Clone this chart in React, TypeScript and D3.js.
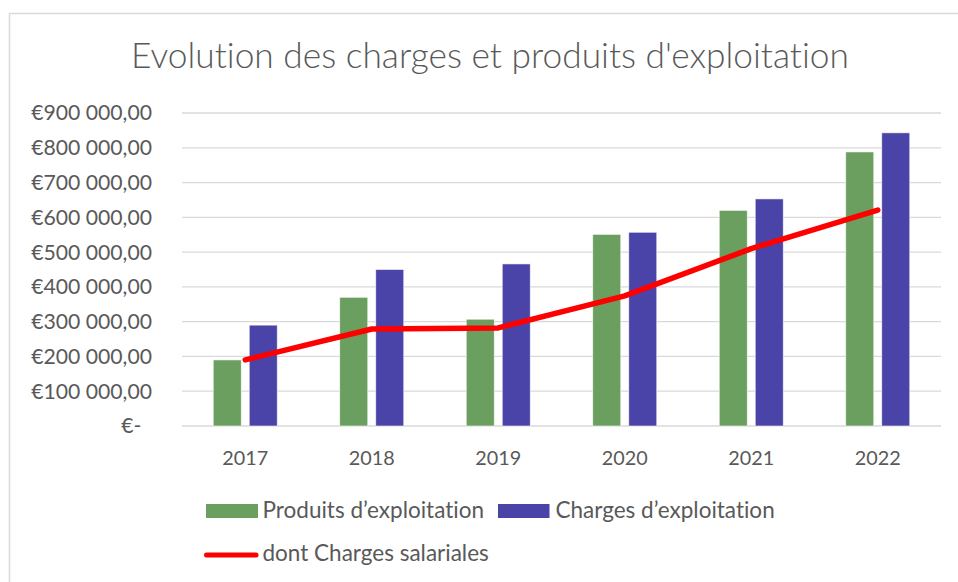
import React from "react";
import * as d3 from "d3";

const categories = ["2017", "2018", "2019", "2020", "2021", "2022"];
const produits = [190000, 370000, 307000, 551000, 620000, 788000];
const charges = [290000, 450000, 466000, 557000, 653000, 843000];
const salariales = [190000, 279000, 282000, 374000, 510000, 621000];
const yTicks = [0, 100000, 200000, 300000, 400000, 500000, 600000, 700000, 800000, 900000];
const seriesNames = ["Produits d\u2019exploitation", "Charges d\u2019exploitation", "dont Charges salariales"];
const title = "Evolution des charges et produits d'exploitation";

const W = 958;
const H = 582;
const FONT = "Lato, 'Open Sans', sans-serif";
const GREEN = "#6A9F5F";
const BLUE = "#4B44A8";
const RED = "#FF0000";
const TEXT = "#595959";
const GRID = "#D9D9D9";

const locale = d3.formatLocale({ decimal: ",", thousands: "\u00a0", grouping: [3], currency: ["\u20ac", ""] });
const fmt = locale.format("$,.2f");
const fmtTick = (v: number) => (v === 0 ? "\u20ac-" : fmt(v).replace(/\u00a0/g, " "));

const noLig = { fontVariantLigatures: "none" as const };

export default function App() {
  const left = 182;
  const right = 941;
  const top = 113;
  const bottom = 426;

  const x0 = d3.scaleBand<string>().domain(categories).range([left, right]).paddingInner(0.494).paddingOuter(0.247);
  const x1 = d3.scaleBand<string>().domain(["p", "c"]).range([0, x0.bandwidth()]).paddingInner(0.222).paddingOuter(0);
  const y = d3.scaleLinear().domain([0, 900000]).range([bottom, top]);

  const cx = (c: string) => (x0(c) as number) + x0.bandwidth() / 2;
  const line = d3
    .line<number>()
    .x((_, i) => cx(categories[i]))
    .y((d) => y(d));

  return (
    <div style={{ position: "fixed", left: 0, top: 0 }}>
      <svg width={W} height={H} style={{ display: "block", background: "#fff" }}>
        <rect x={0} y={0} width={W} height={H} fill="#fff" />
        {/* chart frame (cropped on right/bottom) */}
        <path d={`M9.5,${H + 2} V13.5 H${W + 2}`} fill="none" stroke={GRID} strokeWidth={1.5} />

        <text x={490} y={67.5} textAnchor="middle" fontFamily={FONT} fontWeight={300} fontSize={35.3} fill={TEXT} style={noLig}>
          {title}
        </text>

        {/* gridlines */}
        {yTicks.map((t) => (
          <line key={t} x1={left} x2={right} y1={y(t)} y2={y(t)} stroke={GRID} strokeWidth={t === 0 ? 1.6 : 1.3} />
        ))}

        {/* y labels */}
        {yTicks.map((t) => (
          <text
            key={"l" + t}
            x={t === 0 ? 141.5 : 152}
            y={y(t)}
            dy="0.35em"
            textAnchor="end"
            fontFamily={FONT}
            fontSize={21.2}
            fill={TEXT}
            style={noLig}
          >
            {fmtTick(t)}
          </text>
        ))}

        {/* bars */}
        {categories.map((c, i) => (
          <g key={c} transform={`translate(${x0(c)},0)`}>
            <rect
              x={x1("p")}
              y={y(produits[i])}
              width={x1.bandwidth()}
              height={y(0) - y(produits[i])}
              fill={GREEN}
              stroke="#ffffff"
              strokeOpacity={0.7}
              strokeWidth={0.8}
            />
            <rect
              x={x1("c")}
              y={y(charges[i])}
              width={x1.bandwidth()}
              height={y(0) - y(charges[i])}
              fill={BLUE}
              stroke="#ffffff"
              strokeOpacity={0.7}
              strokeWidth={0.8}
            />
          </g>
        ))}

        {/* line */}
        <path
          d={line(salariales) || ""}
          fill="none"
          stroke={RED}
          strokeWidth={5.5}
          strokeLinecap="round"
          strokeLinejoin="round"
        />

        {/* x labels */}
        {categories.map((c) => (
          <text key={"x" + c} x={cx(c)} y={465} textAnchor="middle" fontFamily={FONT} fontSize={19.8} fill={TEXT} style={noLig}>
            {c}
          </text>
        ))}

        {/* legend */}
        <rect x={206} y={504} width={52} height={14} fill={GREEN} />
        <text x={262.5} y={518} fontFamily={FONT} fontSize={22.5} fill={TEXT} style={noLig}>
          {seriesNames[0]}
        </text>
        <rect x={498} y={504} width={51.5} height={14} fill={BLUE} />
        <text x={555.5} y={518} fontFamily={FONT} fontSize={22.5} fill={TEXT} style={noLig}>
          {seriesNames[1]}
        </text>
        <line x1={206.5} x2={256} y1={555} y2={555} stroke={RED} strokeWidth={5} strokeLinecap="round" />
        <text x={262.5} y={561} fontFamily={FONT} fontSize={22.5} fill={TEXT} style={noLig}>
          {seriesNames[2]}
        </text>
      </svg>
    </div>
  );
}
